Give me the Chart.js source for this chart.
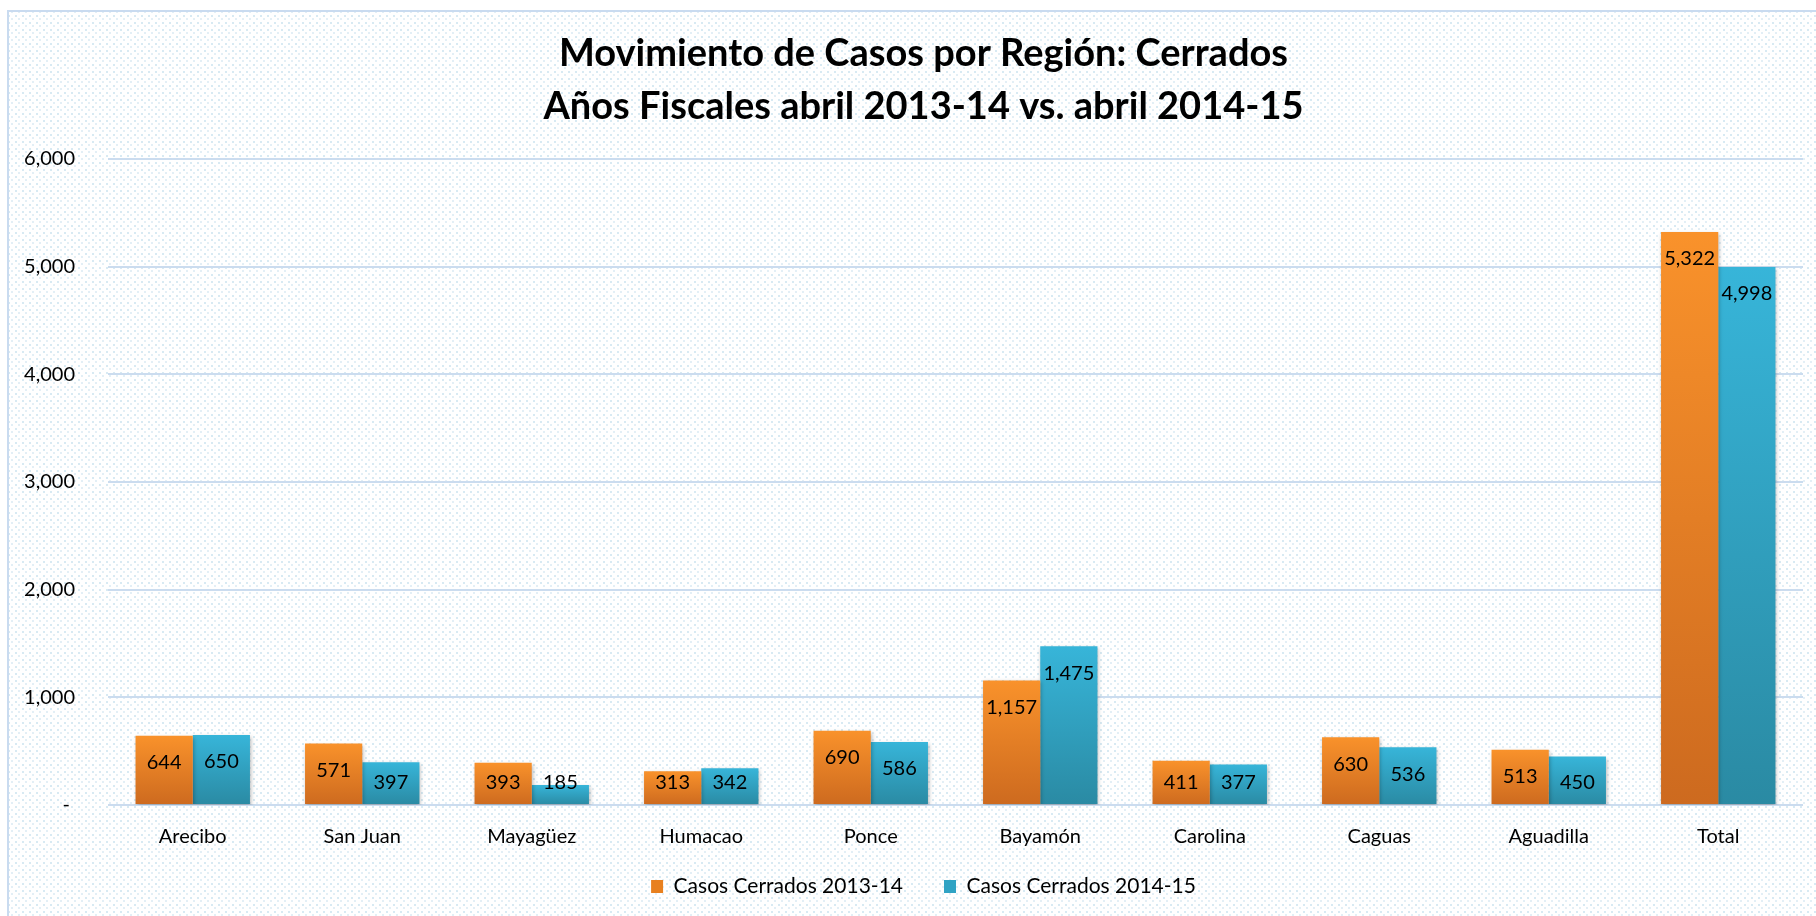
<!DOCTYPE html>
<html>
<head>
<meta charset="utf-8">
<script src="https://cdn.jsdelivr.net/npm/chart.js@4.4.1/dist/chart.umd.min.js"></script>
<style>
  html, body { margin: 0; padding: 0; background: #fff; }
  #wrap { width: 1816px; height: 916px; position: relative; }
</style>
</head>
<body>
<div id="wrap"><canvas id="casosChart"></canvas></div>
<script>
const categories = ['Arecibo', 'San Juan', 'Mayagüez', 'Humacao', 'Ponce', 'Bayamón', 'Carolina', 'Caguas', 'Aguadilla', 'Total'];
const cerrados1314 = [644, 571, 393, 313, 690, 1157, 411, 630, 513, 5322];
const cerrados1415 = [650, 397, 185, 342, 586, 1475, 377, 536, 450, 4998];
const seriesNames = ['Casos Cerrados 2013-14', 'Casos Cerrados 2014-15'];
const titleLines = ['Movimiento de Casos por Región: Cerrados', 'Años Fiscales abril 2013-14 vs. abril 2014-15'];
const yMax = 6000;
const yStep = 1000;

const FONT = 'Lato';

// gradient per bar, top light -> bottom dark
function barGradient(top, bottom) {
  return function (context) {
    const chart = context.chart;
    const area = chart.chartArea;
    if (!area || context.type !== 'data') return top;
    const y = chart.scales.y;
    const v = context.raw;
    const y0 = y.getPixelForValue(v);
    const y1 = y.getPixelForValue(0);
    if (!isFinite(y0) || y1 - y0 < 1) return top;
    const g = chart.ctx.createLinearGradient(0, y0, 0, y1);
    g.addColorStop(0, top);
    g.addColorStop(1, bottom);
    return g;
  };
}

// dotted background + frame
const backdrop = {
  id: 'backdrop',
  beforeDraw(chart) {
    const ctx = chart.ctx;
    const w = chart.width, h = chart.height;
    ctx.save();
    ctx.fillStyle = '#ffffff';
    ctx.fillRect(0, 0, w, h);
    const tile = document.createElement('canvas');
    tile.width = 7; tile.height = 7;
    const t = tile.getContext('2d');
    t.fillStyle = '#ffffff';
    t.fillRect(0, 0, 7, 7);
    t.fillStyle = '#d8eaf3';
    t.fillRect(1, 1, 2, 2);
    t.fillStyle = '#e3eff6';
    t.fillRect(4, 4, 2, 2);
    ctx.fillStyle = ctx.createPattern(tile, 'repeat');
    ctx.fillRect(8, 11, w - 8, h - 11);
    ctx.strokeStyle = '#c9dbf0';
    ctx.lineWidth = 2;
    ctx.beginPath();
    ctx.moveTo(8, h);
    ctx.lineTo(8, 11);
    ctx.lineTo(w, 11);
    ctx.stroke();
    ctx.restore();
  }
};

const barShadow = {
  id: 'barShadow',
  beforeDatasetsDraw(chart) {
    const ctx = chart.ctx;
    ctx.save();
    ctx.shadowColor = 'rgba(0,0,0,0.28)';
    ctx.shadowBlur = 4;
    ctx.shadowOffsetX = 1;
    ctx.shadowOffsetY = 2;
  },
  afterDatasetsDraw(chart) {
    chart.ctx.restore();
  }
};

const valueLabels = {
  id: 'valueLabels',
  afterDatasetsDraw(chart) {
    const ctx = chart.ctx;
    const base = chart.scales.y.getPixelForValue(0);
    ctx.save();
    ctx.font = '20px ' + FONT;
    ctx.fillStyle = '#000';
    ctx.textAlign = 'center';
    ctx.textBaseline = 'middle';
    chart.data.datasets.forEach((ds, i) => {
      const meta = chart.getDatasetMeta(i);
      meta.data.forEach((bar, j) => {
        const y = Math.min(bar.y + 27, base - 22);
        ctx.fillText(ds.data[j].toLocaleString('en-US'), bar.x, y);
      });
    });
    ctx.restore();
  }
};

// nudge title and legend to where the original has them
const nudge = {
  id: 'nudge',
  afterLayout(chart) {
    const lg = chart.legend;
    if (lg) {
      lg.top -= 20; lg.bottom -= 20;
      lg.left += 12; lg.right += 12;
    }
    const tb = chart.titleBlock;
    if (tb) { tb.left += 12; tb.right += 12; }
  }
};

const ctx = document.getElementById('casosChart').getContext('2d');
new Chart(ctx, {
  type: 'bar',
  data: {
    labels: categories,
    datasets: [
      {
        label: seriesNames[0],
        data: cerrados1314,
        backgroundColor: barGradient('#f9922b', '#cd6a1f'),
        borderWidth: 0,
        categoryPercentage: 0.675,
        barPercentage: 1.0
      },
      {
        label: seriesNames[1],
        data: cerrados1415,
        backgroundColor: barGradient('#37b5d9', '#2a8aa3'),
        borderWidth: 0,
        categoryPercentage: 0.675,
        barPercentage: 1.0
      }
    ]
  },
  options: {
    responsive: true,
    maintainAspectRatio: false,
    animation: false,
    layout: { padding: { left: 20, right: 13, top: 0, bottom: -11 } },
    scales: {
      x: {
        grid: { display: false, drawTicks: false },
        border: { display: false },
        ticks: { color: '#000', font: { family: FONT, size: 20 }, padding: 20 },
        afterFit(scale) { scale.height = 50; }
      },
      y: {
        min: 0,
        max: yMax,
        grid: { color: '#cbdcef', lineWidth: 2, drawTicks: false },
        border: { display: false },
        ticks: {
          stepSize: yStep,
          color: '#000',
          font: { family: FONT, size: 20 },
          padding: 33,
          callback: (v) => v === 0 ? '- ' : v.toLocaleString('en-US')
        },
        afterFit(scale) { scale.width = 88; }
      }
    },
    plugins: {
      title: {
        display: true,
        text: titleLines,
        color: '#000',
        font: { family: FONT, size: 38, weight: 'bold', lineHeight: 1.395 },
        padding: { top: 27, bottom: 26 }
      },
      legend: {
        position: 'bottom',
        labels: {
          color: '#000',
          font: { family: FONT, size: 21 },
          boxWidth: 12,
          boxHeight: 13,
          padding: 41,
          generateLabels(chart) {
            const items = Chart.defaults.plugins.legend.labels.generateLabels(chart);
            const flat = ['#e8801f', '#30a3c4'];
            items.forEach((it, i) => { it.fillStyle = flat[i]; it.strokeStyle = flat[i]; it.lineWidth = 0; });
            return items;
          }
        }
      },
      tooltip: { enabled: false }
    }
  },
  plugins: [backdrop, barShadow, valueLabels, nudge]
});
</script>
</body>
</html>
